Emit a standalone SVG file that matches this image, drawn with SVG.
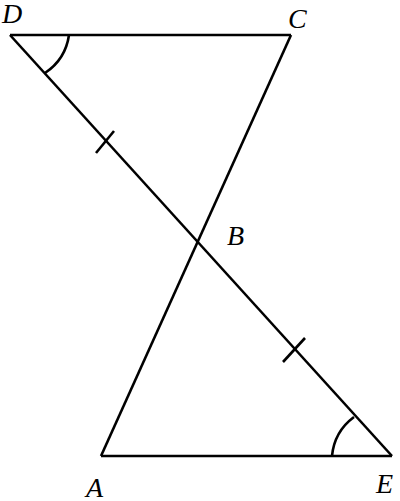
<svg xmlns="http://www.w3.org/2000/svg" width="400" height="501" viewBox="0 0 400 501">
<style>
.ln{stroke:#000;stroke-width:2.6;fill:none;stroke-linecap:butt}
</style>
<rect width="400" height="501" fill="#fff"/>
<g id="connectors">
<line class="ln" x1="10" y1="35" x2="291" y2="35"/>
<line class="ln" x1="10" y1="35" x2="392" y2="456"/>
<line class="ln" x1="291" y1="35" x2="101" y2="456"/>
<line class="ln" x1="101" y1="456" x2="392" y2="456"/>
<line class="ln" x1="96" y1="153" x2="114" y2="131"/>
<line class="ln" x1="283" y1="362" x2="305" y2="338"/>
<path class="ln" d="M69,35 A55,55 0 0 1 45,73"/>
<path class="ln" d="M332,456 A55,55 0 0 1 354,417"/>
</g>
<g font-family="Liberation Serif, serif" font-style="italic" font-size="28" fill="#000">
<g id="D"><text x="2" y="23">D</text></g>
<g id="C"><text x="288" y="28">C</text></g>
<g id="B"><text x="227" y="245">B</text></g>
<g id="A"><text x="86" y="497">A</text></g>
<g id="E"><text x="376" y="493">E</text></g>
</g>
</svg>
